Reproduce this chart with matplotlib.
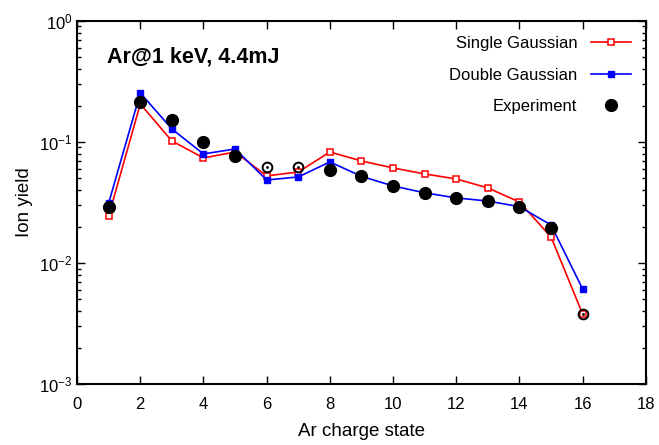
import matplotlib.pyplot as plt
import numpy as np
from matplotlib.ticker import LogLocator, NullFormatter, MultipleLocator

plt.rcParams['font.family'] = ['Liberation Sans', 'DejaVu Sans']
plt.rcParams['mathtext.fontset'] = 'custom'
plt.rcParams['mathtext.rm'] = 'Liberation Sans'
plt.rcParams['mathtext.it'] = 'Liberation Sans'

# data
charge = np.arange(1, 17)
single = [0.0245, 0.206, 0.102, 0.0738, 0.0826, 0.0524, 0.0565, 0.0826,
          0.0697, 0.061, 0.0544, 0.0495, 0.0417, 0.0319, 0.0164, 0.00379]
double = [0.0313, 0.254, 0.128, 0.0796, 0.0875, 0.0485, 0.0514, 0.0684,
          0.052, 0.0433, 0.038, 0.0345, 0.0325, 0.0292, 0.0206, 0.0061]
exp_x = [1, 2, 3, 4, 5, 8, 9, 10, 11, 12, 13, 14, 15]
exp_y = [0.029, 0.214, 0.152, 0.1, 0.0766, 0.0587, 0.052, 0.0433,
         0.0379, 0.0345, 0.0325, 0.029, 0.0195]
# hollow experiment points
exp_open_x = [6, 7, 16]
exp_open_y = [0.062, 0.062, 0.0038]

fig = plt.figure(figsize=(6.59, 4.45), dpi=100)
ax = fig.add_axes([0.117, 0.137, 0.863, 0.816])

ax.plot(charge, single, color='red', lw=1.2, marker='s', ms=4.5,
        mfc='white', mec='red', mew=1.1, label='Single Gaussian', zorder=3)
ax.plot(charge, double, color='blue', lw=1.2, marker='s', ms=5,
        mfc='blue', mec='blue', label='Double Gaussian', zorder=3)
ax.plot(exp_x, exp_y, ls='none', marker='o', ms=8.5, color='black',
        label='Experiment', zorder=4)
ax.plot(exp_open_x, exp_open_y, ls='none', marker='o', ms=7, mfc='none',
        mec='black', mew=1.4, zorder=4)
ax.plot(exp_open_x, exp_open_y, ls='none', marker='.', ms=2, color='black',
        zorder=4)

ax.set_yscale('log')
ax.set_ylim(1e-3, 1)
ax.set_xlim(0, 18)
ax.xaxis.set_major_locator(MultipleLocator(2))
ax.yaxis.set_minor_locator(LogLocator(base=10, subs=np.arange(2, 10)))
ax.yaxis.set_minor_formatter(NullFormatter())

ax.tick_params(which='both', direction='in', top=True, right=True,
               labelsize=12, width=1)
ax.tick_params(which='major', length=6)
ax.tick_params(which='minor', length=3)
ax.tick_params(axis='x', pad=9)
for s in ax.spines.values():
    s.set_linewidth(1.5)

ax.set_xlabel('Ar charge state', fontsize=13.5, labelpad=8)
ax.set_ylabel('Ion yield', fontsize=13.5, labelpad=4)

ax.text(0.052, 0.9, 'Ar@1 keV, 4.4mJ', transform=ax.transAxes,
        fontsize=15.5, fontweight='bold', va='center')

leg = ax.legend(loc='upper right', frameon=False, fontsize=12,
                markerfirst=False, handlelength=2.4, labelspacing=1.0,
                borderaxespad=0.5)

plt.savefig('out.png', dpi=100)
